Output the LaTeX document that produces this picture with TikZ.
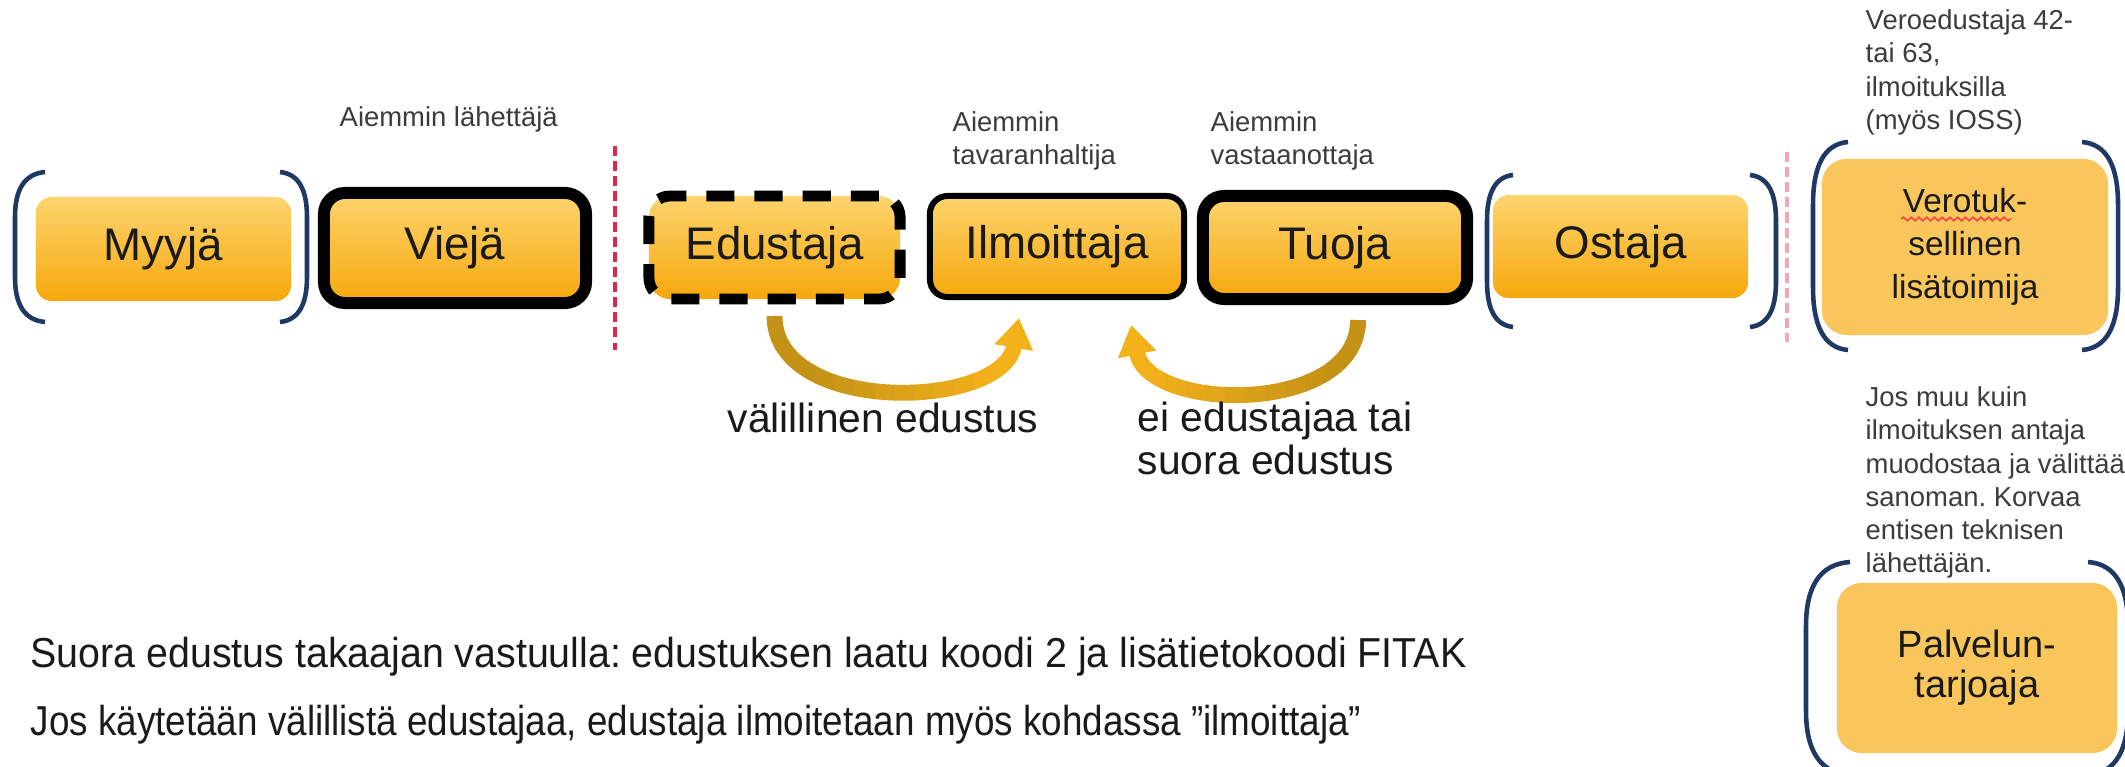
\documentclass[tikz,border=0pt]{standalone}
\usepackage{graphicx}
\usepackage{fontspec}
\setmainfont{Liberation Sans}
\usetikzlibrary{arrows.meta,decorations.pathmorphing}
\frenchspacing
\definecolor{boxtop}{RGB}{253,212,110}
\definecolor{boxbot}{RGB}{246,168,12}
\definecolor{flatfill}{RGB}{248,198,90}
\definecolor{navy}{RGB}{31,56,100}
\definecolor{reddash}{RGB}{222,40,72}
\definecolor{pinkdash}{RGB}{242,166,182}
\definecolor{arrdark}{RGB}{196,146,22}
\definecolor{arrlight}{RGB}{243,177,26}
\definecolor{txt}{RGB}{26,26,26}
\definecolor{smalltxt}{RGB}{60,60,60}
\newcommand{\mybrk}[4]{% #1 end x, #2 curve x, #3 top y, #4 bottom y
  \draw[brk] (#1,#3) .. controls ({#2+0.3*(#1-#2)},{#3+2}) and (#2,{#3+0.12*(#4-#3)}) .. (#2,{#3+0.3*(#4-#3)})
    -- (#2,{#4-0.3*(#4-#3)}) .. controls (#2,{#4-0.12*(#4-#3)}) and ({#2+0.3*(#1-#2)},{#4-2}) .. (#1,#4);}
\newcommand{\arrowApath}{([yshift=-0.115cm]edustaja.south) .. controls +(0,100) and +(-16,92) .. ([xshift=-0.38cm,yshift=-0.18cm]ilmoittaja.south)}
\newcommand{\arrowBpath}{([xshift=0.23cm,yshift=-0.15cm]tuoja.south) .. controls +(0,95) and +(18,88) .. ([xshift=0.74cm,yshift=-0.25cm]ilmoittaja.south)}
\tikzset{
  plainbox/.style={rounded corners=4.5pt, top color=boxtop, bottom color=boxbot, text=txt,
    font=\fontsize{13}{15}\selectfont, inner sep=0pt},
  thickbox/.style={plainbox, draw=black, line width=3.4pt, rounded corners=6pt},
  dashbox/.style={plainbox, draw=black, line width=3.1pt, dash pattern=on 8pt off 5.7pt, rounded corners=6pt},
  thinbox/.style={plainbox, draw=black, line width=1.7pt, rounded corners=5pt},
  flatbox/.style={rounded corners=7pt, fill=flatfill, text=txt, align=center, inner sep=0pt},
  brk/.style={draw=navy, line width=1.3pt},
  sepline/.style={line width=1.4pt, dash pattern=on 2.85pt off 1.45pt},
  small/.style={font=\fontsize{7.8}{9.45}\selectfont, text=smalltxt, align=left, inner sep=0pt},
  lbl/.style={font=\fontsize{11.6}{12.3}\selectfont, text=txt, inner sep=0pt},
  bigtxt/.style={font=\fontsize{11.9}{13}\selectfont, text=txt, inner sep=0pt},
  curarrow/.style={line width=4.5pt, -{Triangle[width=10.5pt,length=8.5pt]}}
}
\begin{document}
\begin{tikzpicture}[x=0.01cm,y=-0.01cm]
\useasboundingbox (0,0) rectangle (2125,767);
\fill[white] (0,0) rectangle (2125,767);

% main row
\node[plainbox, minimum width=2.55cm, minimum height=1.04cm] (myyja) at (163.5,249) {Myyjä};
\node[thickbox, minimum width=2.62cm, minimum height=1.10cm] (vieja) at (455,248) {Viejä};
\node[dashbox, minimum width=2.51cm, minimum height=1.03cm] (edustaja) at (774.5,247.5) {Edustaja};
\node[thinbox, minimum width=2.54cm, minimum height=1.01cm] (ilmoittaja) at (1057,246.5) {Ilmoittaja};
\node[thickbox, minimum width=2.64cm, minimum height=1.03cm] (tuoja) at (1335,247.5) {Tuoja};
\node[plainbox, minimum width=2.55cm, minimum height=1.03cm] (ostaja) at (1620.5,246.5) {Ostaja};

% right column boxes
\node[flatbox, minimum width=2.86cm, minimum height=1.76cm, font=\fontsize{9.5}{12.3}\selectfont] (verotuk) at (1965,247) {Verotuk-\\sellinen\\lisätoimija};
\node[flatbox, minimum width=2.80cm, minimum height=1.70cm, font=\fontsize{10.8}{11.4}\selectfont] (palvelu) at (1977,668) {Palvelun-\\tarjoaja};
\draw[red!75!white, line width=0.45pt, decorate, decoration={snake, amplitude=0.5pt, segment length=2.2pt}] (1901,219) -- (2011,219);

% brackets
\mybrk{45}{15}{172}{322}
\mybrk{280}{307}{172}{322}
\mybrk{1513}{1487}{175}{327}
\mybrk{1750}{1776}{175}{327}
\mybrk{1848}{1813}{142}{350}
\mybrk{2082}{2118}{142}{350}
\mybrk{1850}{1806}{562}{775}
\mybrk{2088}{2128}{562}{775}

% separators
\draw[sepline, draw=reddash] (615,146) -- (615,350);
\draw[sepline, draw=pinkdash] (1787,152) -- (1787,342);

% small labels
\node[small, anchor=west] (lah) at (339,119) {Aiemmin lähettäjä};
\node[small, anchor=north west] (tav) at (952,111) {Aiemmin\\tavaranhaltija};
\node[small, anchor=north west] (vast) at (1210,111) {Aiemmin\\vastaanottaja};
\node[small, anchor=north west] (verotxt) at (1865,9) {Veroedustaja 42-\\tai 63,\\ilmoituksilla\\(myös IOSS)};
\node[small, anchor=north west] (jostxt) at (1865,386) {Jos muu kuin\\ilmoituksen antaja\\muodostaa ja välittää\\sanoman. Korvaa\\entisen teknisen\\lähettäjän.};

% curved arrows (colour gradient built from vertical strips)
\foreach \i in {0,...,13}{
  \pgfmathtruncatemacro\pct{max(0,min(100,125-\i*11))}
  \begin{scope}
    \clip ({755+\i*20},290) rectangle ({776+\i*20},430);
    \draw[curarrow, draw=arrdark!\pct!arrlight] \arrowApath;
  \end{scope}
}
\foreach \i in {0,...,13}{
  \pgfmathtruncatemacro\pct{max(0,min(100,\i*11-18))}
  \begin{scope}
    \clip ({1105+\i*20},290) rectangle ({1126+\i*20},430);
    \draw[curarrow, draw=arrdark!\pct!arrlight] \arrowBpath;
  \end{scope}
}

% arrow labels
\node[lbl] (valil) at (883,418) {välillinen edustus};
\node[lbl, align=left, anchor=north west] (eiedu) at (1137,401) {ei edustajaa tai\\suora edustus};

% bottom notes
\node[bigtxt, anchor=west] (note1) at (30,657) {\scalebox{0.94}[1]{Suora edustus takaajan vastuulla: edustuksen laatu koodi 2 ja lisätietokoodi FITAK}};
\node[bigtxt, anchor=west] (note2) at (30,725) {\scalebox{0.88}[1]{Jos käytetään välillistä edustajaa, edustaja ilmoitetaan myös kohdassa ”ilmoittaja”}};
\end{tikzpicture}
\end{document}
